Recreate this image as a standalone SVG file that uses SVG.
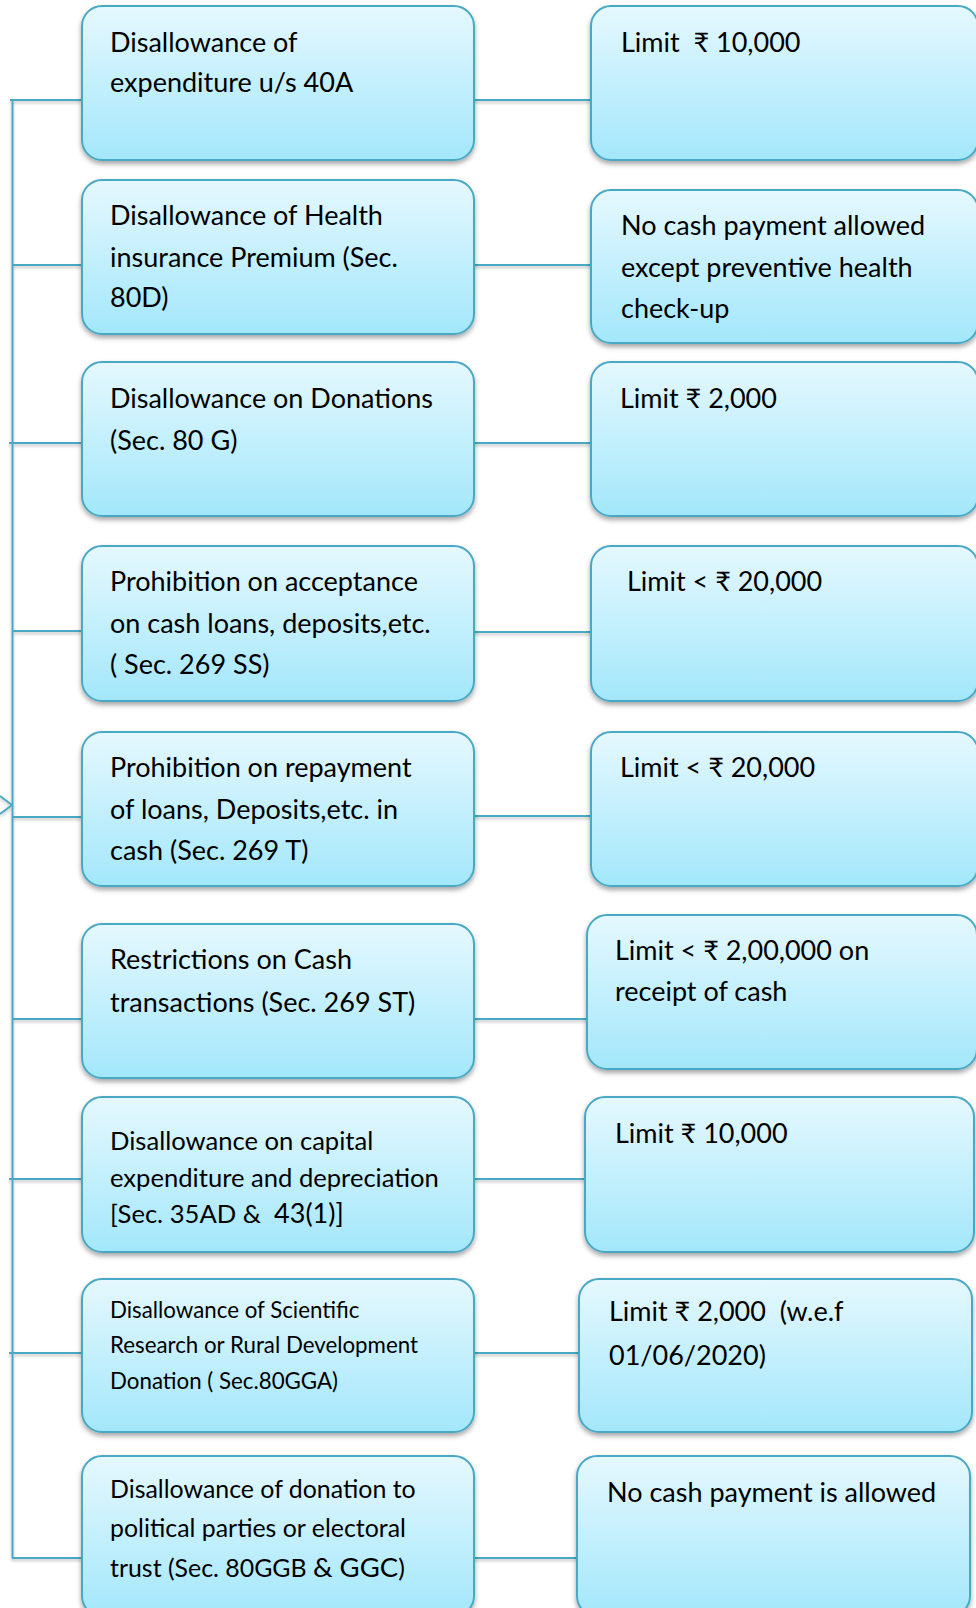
<svg xmlns="http://www.w3.org/2000/svg" width="976" height="1608" viewBox="0 0 976 1608">
<defs>
<linearGradient id="g" x1="0" y1="0" x2="0" y2="1">
<stop offset="0" stop-color="#e5f8fe"/>
<stop offset="1" stop-color="#a3e7fb"/>
</linearGradient>
<filter id="sh" x="-5%" y="-5%" width="110%" height="115%">
<feDropShadow dx="0" dy="3" stdDeviation="2.5" flood-color="#000" flood-opacity="0.35"/>
</filter>
<filter id="lsh" x="-5%" y="-50%" width="110%" height="200%">
<feDropShadow dx="0" dy="2" stdDeviation="1.5" flood-color="#000" flood-opacity="0.25"/>
</filter>
</defs>
<style>
.box{fill:url(#g);stroke:#4aa9c5;stroke-width:2;filter:url(#sh)}
.ln{fill:none;stroke:#4aa9c5;stroke-width:2}
text{font-family:Lato,"Liberation Sans",sans-serif;fill:#000;font-size:27px}
.s7{font-size:25.6px}
.s9{font-size:24.9px}
.xs{font-size:22.3px}
</style>
<rect width="976" height="1608" fill="#fff"/>
<g id="connectors" filter="url(#lsh)">
<path class="ln" d="M12.5 100 V1558"/>
<path class="ln" d="M10 100 H82 M12 265 H82 M9 443 H82 M12 631 H82 M12 817 H82 M12 1019 H82 M9 1179 H82 M9 1353 H82 M12 1558 H82"/>
<path class="ln" d="M474 100 H591 M474 265 H591 M474 443 H591 M474 632 H591 M474 816 H591 M474 1019 H587 M474 1179 H585 M474 1353 H579 M474 1558 H577"/>
<polyline class="ln" points="0,796 12,805 0,814"/>
</g>
<g id="n1"><rect class="box" x="82" y="6" width="392" height="154" rx="20"/>
<text x="110" y="52">Disallowance of</text><text x="110" y="92">expenditure u/s 40A</text></g>
<g id="r1"><rect class="box" x="591" y="6" width="387" height="154" rx="20"/>
<text x="621" y="52" xml:space="preserve">Limit  ₹ 10,000</text></g>
<g id="n2"><rect class="box" x="82" y="180" width="392" height="154" rx="20"/>
<text x="110" y="225">Disallowance of Health</text><text x="110" y="267">insurance Premium (Sec.</text><text x="110" y="307">80D)</text></g>
<g id="r2"><rect class="box" x="591" y="190" width="387" height="153" rx="20"/>
<text x="621" y="235">No cash payment allowed</text><text x="621" y="277">except preventive health</text><text x="621" y="318">check-up</text></g>
<g id="n3"><rect class="box" x="82" y="362" width="392" height="154" rx="20"/>
<text x="110" y="408">Disallowance on Donations</text><text x="110" y="450">(Sec. 80 G)</text></g>
<g id="r3"><rect class="box" x="591" y="362" width="387" height="154" rx="20"/>
<text x="620" y="408">Limit ₹ 2,000</text></g>
<g id="n4"><rect class="box" x="82" y="546" width="392" height="155" rx="20"/>
<text x="110" y="591">Prohibition on acceptance</text><text x="110" y="633">on cash loans, deposits,etc.</text><text x="110" y="674">( Sec. 269 SS)</text></g>
<g id="r4"><rect class="box" x="591" y="546" width="387" height="155" rx="20"/>
<text x="627" y="591">Limit &lt; ₹ 20,000</text></g>
<g id="n5"><rect class="box" x="82" y="732" width="392" height="154" rx="20"/>
<text x="110" y="777">Prohibition on repayment</text><text x="110" y="819">of loans, Deposits,etc. in</text><text x="110" y="860">cash (Sec. 269 T)</text></g>
<g id="r5"><rect class="box" x="591" y="732" width="387" height="154" rx="20"/>
<text x="620" y="777">Limit &lt; ₹ 20,000</text></g>
<g id="n6"><rect class="box" x="82" y="924" width="392" height="154" rx="20"/>
<text x="110" y="969">Restrictions on Cash</text><text x="110" y="1012">transactions (Sec. 269 ST)</text></g>
<g id="r6"><rect class="box" x="587" y="915" width="390" height="154" rx="20"/>
<text x="615" y="960">Limit &lt; ₹ 2,00,000 on</text><text x="615" y="1001">receipt of cash</text></g>
<g id="n7"><rect class="box" x="82" y="1097" width="392" height="155" rx="20"/>
<text class="s7" x="110" y="1150">Disallowance on capital</text><text class="s7" x="110" y="1187">expenditure and depreciation</text><text class="s7" x="110" y="1223" xml:space="preserve">[Sec. 35AD &amp;  <tspan font-size="27">43(1)]</tspan></text></g>
<g id="r7"><rect class="box" x="585" y="1097" width="389" height="155" rx="20"/>
<text x="615" y="1143">Limit ₹ 10,000</text></g>
<g id="n8"><rect class="box" x="82" y="1279" width="392" height="153" rx="20"/>
<text class="xs" x="110" y="1318">Disallowance of Scientific</text><text class="xs" x="110" y="1353">Research or Rural Development</text><text class="xs" x="110" y="1389">Donation ( Sec.80GGA)</text></g>
<g id="r8"><rect class="box" x="579" y="1279" width="393" height="153" rx="20"/>
<text x="609" y="1321" xml:space="preserve">Limit ₹ 2,000  (w.e.f</text><text x="609" y="1365">01/06/2020)</text></g>
<g id="n9"><rect class="box" x="82" y="1456" width="392" height="160" rx="20"/>
<text class="s9" x="110" y="1498">Disallowance of donation to</text><text class="s9" x="110" y="1537">political parties or electoral</text><text class="s9" x="110" y="1577">trust (Sec. 80GGB <tspan font-size="27.5">&amp; GGC</tspan>)</text></g>
<g id="r9"><rect class="box" x="577" y="1456" width="393" height="160" rx="20"/>
<text x="607" y="1502">No cash payment is allowed</text></g>
</svg>
